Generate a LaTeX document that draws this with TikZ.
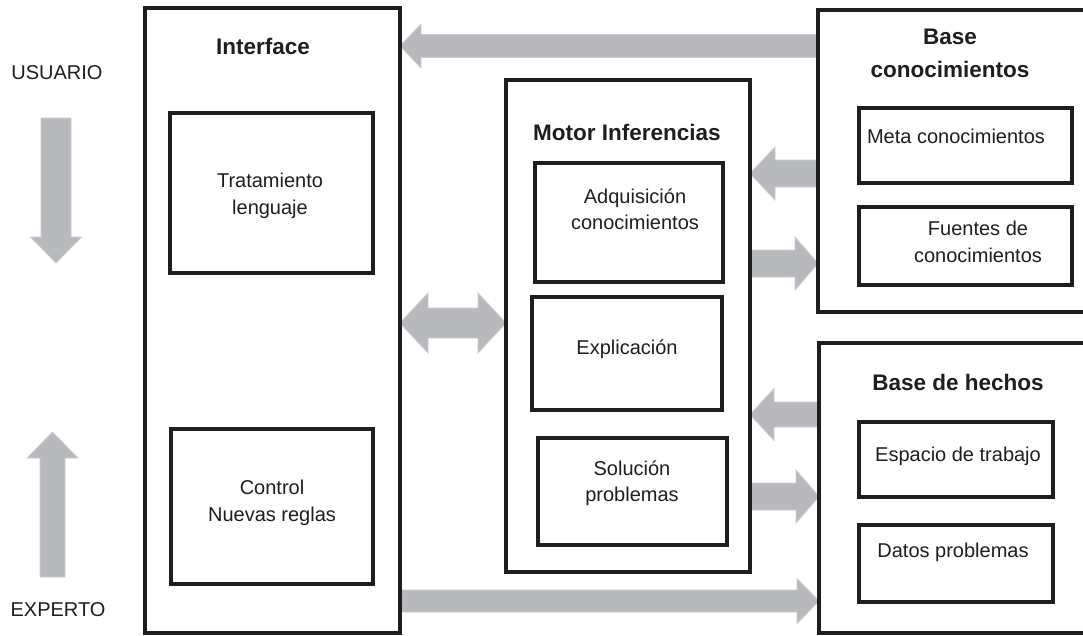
\documentclass[tikz,border=0pt]{standalone}
\usepackage{fontspec}
\setmainfont{Liberation Sans}
\usetikzlibrary{calc}
\pgfdeclarelayer{bg}
\pgfsetlayers{bg,main}
\definecolor{arrowfill}{RGB}{184,185,189}
\definecolor{arrowedge}{RGB}{205,205,208}
\definecolor{ink}{RGB}{30,30,30}
\tikzset{
  box/.style={draw=ink, line width=3.2pt, fill=none, inner sep=0pt, outer sep=0pt},
  label/.style={font=\fontsize{20}{26.5}\selectfont, text=ink, align=center, inner sep=0pt},
  title/.style={font=\fontsize{22.5}{33}\selectfont\bfseries, text=ink, align=center, inner sep=0pt},
  blockarrow/.style={fill=arrowfill, draw=arrowedge, line width=0.8pt, line join=miter},
}
% #1 tail, #2 tip, #3 shaft half width, #4 head half width, #5 head length
\newcommand\blockarrow[5]{%
  \begin{pgfonlayer}{bg}
  \path[blockarrow] let \p1=(#1), \p2=(#2), \n1={atan2(\y2-\y1,\x2-\x1)}, \n2={veclen(\x2-\x1,\y2-\y1)} in
    [shift={(\p1)}, rotate=\n1]
    (0pt,-#3pt) -- (\n2-#5pt,-#3pt) -- (\n2-#5pt,-#4pt) -- (\n2,0pt) -- (\n2-#5pt,#4pt) -- (\n2-#5pt,#3pt) -- (0pt,#3pt) -- cycle;
  \end{pgfonlayer}}
% double-headed: #1 left tip, #2 right tip, #3 shaft half, #4 head half, #5 head length
\newcommand\dblarrow[5]{%
  \begin{pgfonlayer}{bg}
  \path[blockarrow] let \p1=(#1), \p2=(#2), \n1={atan2(\y2-\y1,\x2-\x1)}, \n2={veclen(\x2-\x1,\y2-\y1)} in
    [shift={(\p1)}, rotate=\n1]
    (0pt,0pt) -- (#5pt,-#4pt) -- (#5pt,-#3pt) -- (\n2-#5pt,-#3pt) -- (\n2-#5pt,-#4pt) -- (\n2,0pt) -- (\n2-#5pt,#4pt) -- (\n2-#5pt,#3pt) -- (#5pt,#3pt) -- (#5pt,#4pt) -- cycle;
  \end{pgfonlayer}}
\begin{document}
\begin{tikzpicture}[x=1pt,y=-1pt]
\useasboundingbox (0,0) rectangle (1083,635);

% side labels
\node[label] (usuario) at (57,73) {USUARIO};
\node[label] (experto) at (58,610) {EXPERTO};
\coordinate (downtail) at (56,118);
\coordinate (downtip) at (56,263);
\coordinate (uptail) at (52.5,577);
\coordinate (uptip) at (52.5,432);

% Interface
\node[box, minimum width=255pt, minimum height=625pt] (interface) at (272.5,320.5) {};
\node[title] (interfacet) at (263,46) {Interface};
\node[box, minimum width=203pt, minimum height=160pt] (trat) at (271.5,193) {};
\node[label] at (270,196) {Tratamiento\\lenguaje};
\node[box, minimum width=202pt, minimum height=155pt] (control) at (272,506.5) {};
\node[label] at (272,503) {Control\\Nuevas reglas};

% Motor
\node[box, minimum width=244pt, minimum height=492pt] (motor) at (628,326) {};
\node[title] (motort) at (627,132) {Motor Inferencias};
\node[box, minimum width=188pt, minimum height=119pt] (adq) at (629,222.5) {};
\node[label] at (635,209) {Adquisición\\conocimientos};
\node[box, minimum width=190pt, minimum height=113pt] (expl) at (627,353.5) {};
\node[label] at (627,349) {Explicación};
\node[box, minimum width=189pt, minimum height=107pt] (sol) at (632.5,491.5) {};
\node[label] at (632,483) {Solución\\problemas};

% Base conocimientos
\node[box, minimum width=272pt, minimum height=302pt] (basec) at (954,161) {};
\node[title] (basect) at (950,53) {Base\\conocimientos};
\node[box, minimum width=213pt, minimum height=75pt] (meta) at (965.5,145.5) {};
\node[label] at (956,136) {Meta conocimientos};
\node[box, minimum width=213pt, minimum height=78pt] (fuentes) at (965.5,246) {};
\node[label] at (978,242) {Fuentes de\\conocimientos};

% Base de hechos
\node[box, minimum width=271pt, minimum height=290pt] (baseh) at (954.5,488) {};
\node[title] (baseht) at (958,382) {Base de hechos};
\node[box, minimum width=194pt, minimum height=75pt] (esp) at (956,459.5) {};
\node[label] at (958,456) {Espacio de trabajo};
\node[box, minimum width=194pt, minimum height=77pt] (datos) at (956,563.5) {};
\node[label] at (953,552) {Datos problemas};

% y levels for connectors
\coordinate (y1) at (0,46);
\coordinate (y2) at (0,323);
\coordinate (y3) at (0,173.5);
\coordinate (y4) at (0,263.5);
\coordinate (y5) at (0,414.5);
\coordinate (y6) at (0,496.5);
\coordinate (y7) at (0,601);

% block arrows
\blockarrow{downtail}{downtip}{15}{25.5}{26}
\blockarrow{uptail}{uptip}{12.5}{25.5}{26}
\blockarrow{basec.west |- y1}{interface.east |- y1}{11.5}{22}{21}
\dblarrow{interface.east |- y2}{motor.west |- y2}{15}{30}{28}
\blockarrow{basec.west |- y3}{motor.east |- y3}{13.5}{26.5}{25}
\blockarrow{motor.east |- y4}{basec.west |- y4}{13.5}{26.5}{23}
\blockarrow{baseh.west |- y5}{motor.east |- y5}{12.5}{26}{24}
\blockarrow{motor.east |- y6}{baseh.west |- y6}{13.5}{26.5}{23}
\blockarrow{interface.east |- y7}{baseh.west |- y7}{11}{22.5}{22}
\end{tikzpicture}
\end{document}
